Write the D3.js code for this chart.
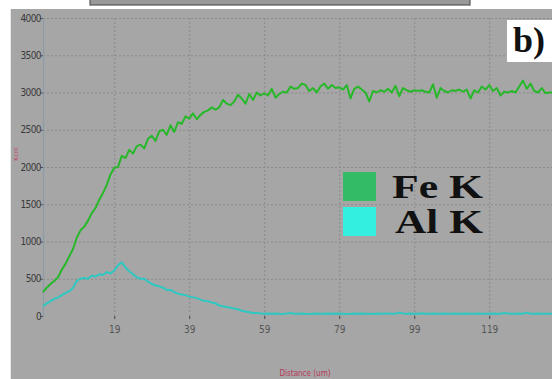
<!DOCTYPE html>
<html><head><meta charset="utf-8">
<script src="https://cdn.jsdelivr.net/npm/d3@7"></script>
<style>html,body{margin:0;padding:0;background:#fff;}svg{display:block;}</style>
</head><body>
<svg id="c" width="552" height="379"></svg>
<script>
const distance = d3.range(0, 137);
const feK = [320,380,430,470,520,620,700,800,900,1050,1150,1200,1280,1380,1450,1560,1650,1760,1900,1990,
2000,2150,2120,2230,2180,2280,2300,2250,2380,2420,2350,2480,2500,2430,2560,2470,2600,2580,2680,2650,
2720,2640,2700,2740,2760,2800,2770,2800,2900,2850,2830,2880,2970,2920,2850,2980,2900,3000,2960,2990,
2960,3050,2930,2980,3010,3000,3080,3050,3060,3120,3100,3020,3060,3000,3080,3120,3050,3100,3060,3070,
3040,3100,2920,3050,3080,3040,3000,2880,3020,3000,3030,3010,3050,3000,3090,2950,3060,3030,3010,3030,
3020,3030,3010,3000,3110,2930,3060,3020,3000,3030,3020,3040,3010,3040,2920,3030,3000,3080,3040,3100,
3020,3060,2960,3010,3000,3020,3000,3080,3160,3050,3120,3020,3000,3060,2990,3000,3000];
const alK = [130,170,200,230,250,280,310,330,380,470,500,510,500,540,530,560,550,590,570,610,
680,720,650,600,560,520,500,500,460,430,410,400,380,350,350,320,300,290,280,260,
250,240,220,200,200,180,170,140,130,120,110,100,90,70,60,50,40,40,35,30,
32,30,35,30,28,32,40,30,30,35,30,28,30,33,30,30,35,30,32,30,
30,28,30,35,30,32,30,30,28,33,30,32,35,30,30,45,35,30,32,30,
30,38,30,30,32,30,30,35,30,30,32,30,30,35,30,30,32,30,30,30,
35,30,30,40,32,30,30,35,30,45,30,30,32,30,30,30,30];
const xTicks = [19,39,59,79,99,119];
const yTicks = [0,500,1000,1500,2000,2500,3000,3500,4000];
const seriesNames = ["Fe K","Al K"];
const lineColors = ["#27b82a","#2ec8c2"];
const legendColors = ["#33bb66","#33efdf"];

const svg = d3.select("#c");
// top gray bar
svg.append("rect").attr("x",90).attr("y",-2).attr("width",380).attr("height",7)
  .attr("fill","#999").attr("stroke","#555").attr("stroke-width",1.2);
// panel
svg.append("rect").attr("x",10).attr("y",9).attr("width",545).attr("height",375).attr("fill","#a6a6a6");
svg.append("line").attr("x1",10.5).attr("x2",10.5).attr("y1",9).attr("y2",379).attr("stroke","#e8e8e8");

const x = d3.scaleLinear().domain([0,136]).range([43,553]);
const y = d3.scaleLinear().domain([0,4000]).range([316,18]);

// grid
svg.append("g").selectAll("line").data(yTicks.filter(d=>d>0)).join("line")
  .attr("x1",43).attr("x2",552).attr("y1",d=>y(d)+0.5).attr("y2",d=>y(d)+0.5)
  .attr("stroke","#8a8a8a").attr("stroke-dasharray","2,2");
svg.append("g").selectAll("line").data(xTicks).join("line")
  .attr("x1",d=>x(d)+0.5).attr("x2",d=>x(d)+0.5).attr("y1",18).attr("y2",316)
  .attr("stroke","#8a8a8a").attr("stroke-dasharray","2,2");

// y axis
const ya = svg.append("g").attr("transform","translate(43,0)")
  .call(d3.axisLeft(y).tickValues(yTicks).tickSize(3).tickFormat(d3.format("d")));
ya.select(".domain").attr("stroke","#8d9aa8").attr("stroke-width",1.2);
ya.selectAll(".tick line").attr("stroke","#555");
ya.selectAll("text").attr("fill","#3a3a3a").attr("font-size","10px").attr("x",-2)
  .attr("font-family","Liberation Sans Narrow, Arial Narrow, DejaVu Sans Condensed, sans-serif").attr("letter-spacing","-0.6px");

// x axis
const xa = svg.append("g").attr("transform","translate(0,316)")
  .call(d3.axisBottom(x).tickValues(xTicks).tickSize(3).tickFormat(d3.format("d")));
xa.select(".domain").remove();
xa.selectAll(".tick line").attr("stroke","#444");
xa.selectAll("text").attr("fill","#555").attr("font-size","10px").attr("dy","1.1em")
  .attr("font-family","Liberation Sans Narrow, DejaVu Sans Condensed, sans-serif");

// axis titles
svg.append("text").attr("x",305).attr("y",376).attr("text-anchor","middle")
  .attr("font-size","8px").attr("fill","#b8395a").attr("font-family","DejaVu Sans Condensed, sans-serif")
  .text("Distance (um)");
svg.append("text").attr("transform","translate(18,154) rotate(-90)").attr("text-anchor","middle")
  .attr("font-size","6px").attr("fill","#c04a68").attr("font-family","DejaVu Sans, sans-serif")
  .text("Kcnt");

// lines
const line = d3.line().x((d,i)=>x(distance[i])).y(d=>y(d));
[feK, alK].forEach((s,k)=>{
  svg.append("path").datum(s).attr("d",line).attr("fill","none")
    .attr("stroke",lineColors[k]).attr("stroke-width",2).attr("stroke-linejoin","round");
});

// b) label
svg.append("rect").attr("x",507).attr("y",20).attr("width",50).attr("height",42).attr("fill","#fff");
svg.append("text").attr("x",513).attr("y",52).attr("font-family","Liberation Serif, Times New Roman, serif")
  .attr("font-weight","bold").attr("font-size","36px").attr("fill","#111").text("b)");

// legend
const lg = svg.append("g");
const legY = [172,207];
seriesNames.forEach((n,k)=>{
  lg.append("rect").attr("x",343).attr("y",legY[k]).attr("width",33).attr("height",29).attr("fill",legendColors[k]);
  lg.append("text").attr("x",k===0?392:395).attr("y",legY[k]+26).attr("font-family","Liberation Serif, Times New Roman, serif")
    .attr("font-weight","bold").attr("font-size","33px").attr("fill","#111")
    .attr("textLength",k===0?91:88).attr("lengthAdjust","spacingAndGlyphs").text(n);
});
</script>
</body></html>
